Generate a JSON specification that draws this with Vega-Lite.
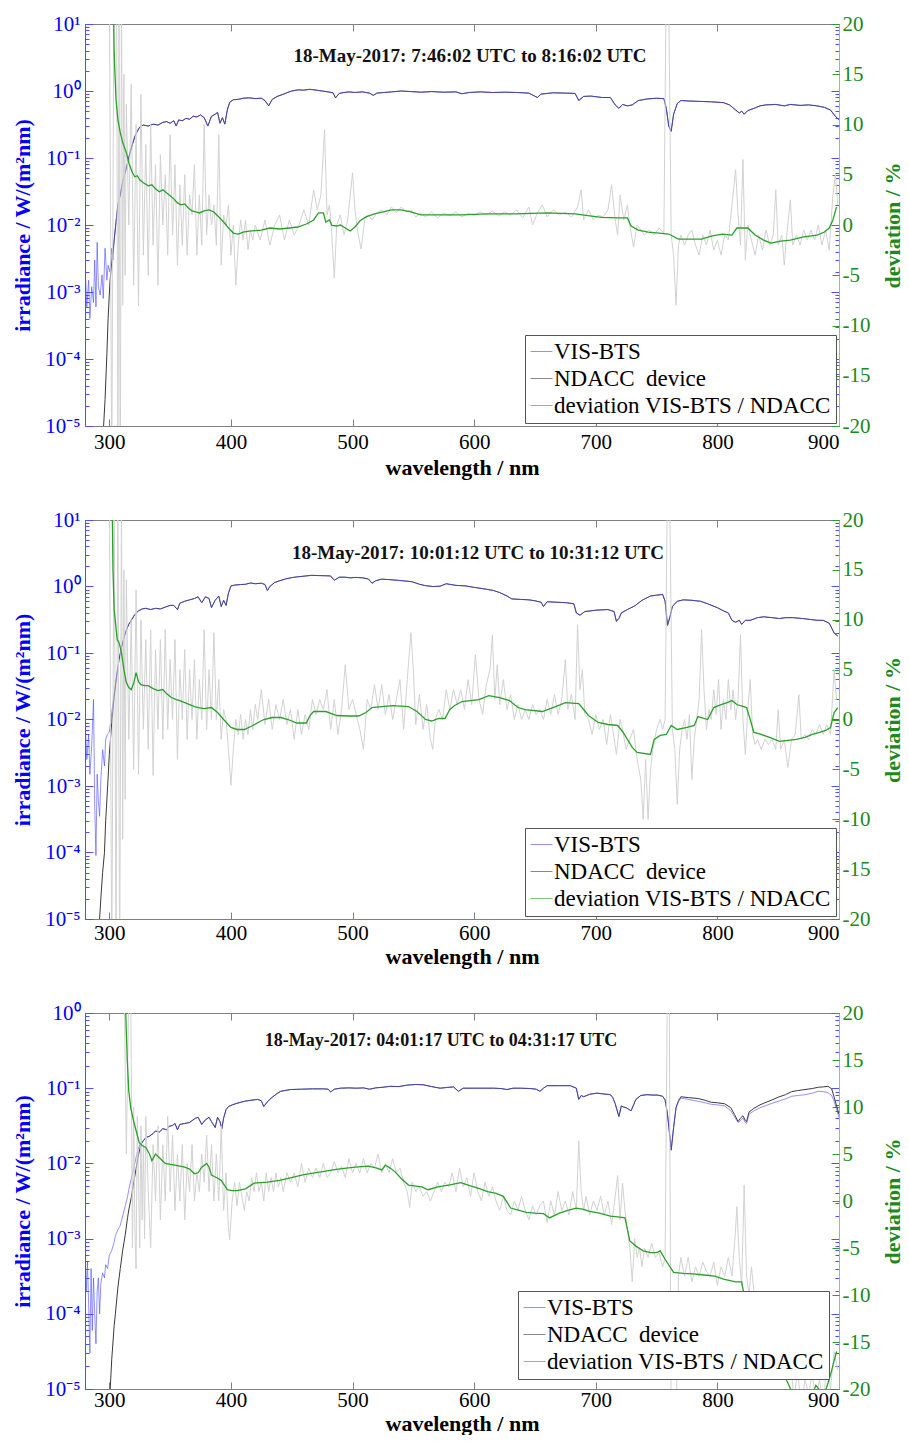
{
  "$schema": "https://vega.github.io/schema/vega-lite/v6.json",
  "padding": {"left": 11, "top": 12, "right": 0, "bottom": 0},
  "background": "white",
  "datasets": {
    "irr1": [
      {"wl":280,"vis":0.0025,"ndacc":1e-7},{"wl":281.5,"vis":0.0006,"ndacc":1e-7},{"wl":283,"vis":0.0015,"ndacc":1e-7},{"wl":284,"vis":0.0004,"ndacc":1e-7},{"wl":285.5,"vis":0.0012,"ndacc":1e-7},{"wl":287,"vis":0.0007,"ndacc":1e-7},{"wl":288,"vis":0.003,"ndacc":1e-7},{"wl":289,"vis":0.0006,"ndacc":1e-7},{"wl":290,"vis":0.0055,"ndacc":1e-7},{"wl":291,"vis":0.0012,"ndacc":1e-7},{"wl":292.5,"vis":0.0009,"ndacc":1e-7},{"wl":294,"vis":0.0018,"ndacc":3e-6},{"wl":295,"vis":0.0008,"ndacc":8e-6},{"wl":296.5,"vis":0.0045,"ndacc":2.5e-5},{"wl":298,"vis":0.0015,"ndacc":0.00012},{"wl":299,"vis":0.0025,"ndacc":0.0004},{"wl":300.5,"vis":0.002,"ndacc":0.0014},{"wl":302,"vis":0.0045,"ndacc":0.0028},{"wl":303,"vis":0.003,"ndacc":0.004},{"wl":304,"vis":0.006,"ndacc":0.006},{"wl":305.5,"vis":0.011,"ndacc":0.011},
      {"wl":307,"vis":0.02,"ndacc":0.02},{"wl":309,"vis":0.028,"ndacc":0.028},{"wl":311,"vis":0.045,"ndacc":0.045},{"wl":313,"vis":0.06,"ndacc":0.06},{"wl":315,"vis":0.085,"ndacc":0.085},{"wl":317,"vis":0.12,"ndacc":0.12},{"wl":319,"vis":0.16,"ndacc":0.16},{"wl":321,"vis":0.21,"ndacc":0.21},{"wl":323,"vis":0.25,"ndacc":0.25},{"wl":325,"vis":0.29,"ndacc":0.29},{"wl":328,"vis":0.31,"ndacc":0.31},{"wl":332,"vis":0.3,"ndacc":0.3},{"wl":336,"vis":0.32,"ndacc":0.32},{"wl":340,"vis":0.31,"ndacc":0.31},{"wl":344,"vis":0.34,"ndacc":0.34},{"wl":347,"vis":0.35,"ndacc":0.35},{"wl":350,"vis":0.33,"ndacc":0.33},{"wl":353,"vis":0.36,"ndacc":0.36},{"wl":355,"vis":0.3,"ndacc":0.3},{"wl":357,"vis":0.37,"ndacc":0.37},{"wl":360,"vis":0.36,"ndacc":0.36},{"wl":363,"vis":0.39,"ndacc":0.39},{"wl":366,"vis":0.38,"ndacc":0.38},{"wl":369,"vis":0.42,"ndacc":0.42},{"wl":372,"vis":0.41,"ndacc":0.41},{"wl":375,"vis":0.44,"ndacc":0.44},{"wl":378,"vis":0.4,"ndacc":0.4},{"wl":381,"vis":0.3,"ndacc":0.3},{"wl":384,"vis":0.42,"ndacc":0.42},{"wl":387,"vis":0.45,"ndacc":0.45},{"wl":389,"vis":0.48,"ndacc":0.48},{"wl":391,"vis":0.33,"ndacc":0.33},{"wl":393,"vis":0.4,"ndacc":0.4},{"wl":395,"vis":0.32,"ndacc":0.32},{"wl":397,"vis":0.52,"ndacc":0.52},{"wl":399,"vis":0.68,"ndacc":0.68},{"wl":402,"vis":0.74,"ndacc":0.74},{"wl":406,"vis":0.75,"ndacc":0.75},{"wl":410,"vis":0.78,"ndacc":0.78},{"wl":415,"vis":0.79,"ndacc":0.79},{"wl":420,"vis":0.77,"ndacc":0.77},{"wl":425,"vis":0.78,"ndacc":0.78},{"wl":428,"vis":0.72,"ndacc":0.72},{"wl":431,"vis":0.6,"ndacc":0.6},{"wl":434,"vis":0.75,"ndacc":0.75},{"wl":438,"vis":0.83,"ndacc":0.83},{"wl":442,"vis":0.88,"ndacc":0.88},{"wl":446,"vis":0.94,"ndacc":0.94},{"wl":450,"vis":1.0,"ndacc":1.0},{"wl":455,"vis":1.04,"ndacc":1.04},{"wl":460,"vis":1.03,"ndacc":1.03},{"wl":465,"vis":1.06,"ndacc":1.06},{"wl":470,"vis":1.03,"ndacc":1.03},{"wl":475,"vis":1.0,"ndacc":1.0},{"wl":480,"vis":0.97,"ndacc":0.97},{"wl":484,"vis":0.94,"ndacc":0.94},{"wl":486,"vis":0.79,"ndacc":0.79},{"wl":489,"vis":0.92,"ndacc":0.92},{"wl":493,"vis":0.95,"ndacc":0.95},{"wl":497,"vis":0.97,"ndacc":0.97},{"wl":502,"vis":0.95,"ndacc":0.95},{"wl":508,"vis":0.97,"ndacc":0.97},{"wl":514,"vis":0.93,"ndacc":0.93},{"wl":517,"vis":0.86,"ndacc":0.86},{"wl":520,"vis":0.93,"ndacc":0.93},{"wl":526,"vis":0.95,"ndacc":0.95},{"wl":532,"vis":0.97,"ndacc":0.97},{"wl":540,"vis":1.0,"ndacc":1.0},{"wl":548,"vis":0.98,"ndacc":0.98},{"wl":556,"vis":0.96,"ndacc":0.96},{"wl":565,"vis":0.98,"ndacc":0.98},{"wl":575,"vis":0.96,"ndacc":0.96},{"wl":585,"vis":0.97,"ndacc":0.97},{"wl":590,"vis":0.91,"ndacc":0.91},{"wl":596,"vis":0.95,"ndacc":0.95},{"wl":605,"vis":0.97,"ndacc":0.97},{"wl":615,"vis":0.95,"ndacc":0.95},{"wl":625,"vis":0.96,"ndacc":0.96},{"wl":635,"vis":0.95,"ndacc":0.95},{"wl":645,"vis":0.93,"ndacc":0.93},{"wl":652,"vis":0.8,"ndacc":0.8},{"wl":655,"vis":0.9,"ndacc":0.9},{"wl":665,"vis":0.94,"ndacc":0.94},{"wl":675,"vis":0.93,"ndacc":0.93},{"wl":683,"vis":0.92,"ndacc":0.92},{"wl":686,"vis":0.72,"ndacc":0.72},{"wl":690,"vis":0.83,"ndacc":0.83},{"wl":696,"vis":0.84,"ndacc":0.84},{"wl":705,"vis":0.8,"ndacc":0.8},{"wl":712,"vis":0.8,"ndacc":0.8},{"wl":716,"vis":0.62,"ndacc":0.62},{"wl":719,"vis":0.55,"ndacc":0.55},{"wl":722,"vis":0.63,"ndacc":0.63},{"wl":726,"vis":0.6,"ndacc":0.6},{"wl":730,"vis":0.62,"ndacc":0.62},{"wl":735,"vis":0.72,"ndacc":0.72},{"wl":742,"vis":0.76,"ndacc":0.76},{"wl":750,"vis":0.78,"ndacc":0.78},{"wl":756,"vis":0.77,"ndacc":0.77},{"wl":758,"vis":0.55,"ndacc":0.55},{"wl":760,"vis":0.3,"ndacc":0.3},{"wl":762,"vis":0.25,"ndacc":0.25},{"wl":764,"vis":0.45,"ndacc":0.45},{"wl":767,"vis":0.65,"ndacc":0.65},{"wl":770,"vis":0.72,"ndacc":0.72},{"wl":776,"vis":0.71,"ndacc":0.71},{"wl":785,"vis":0.7,"ndacc":0.7},{"wl":795,"vis":0.69,"ndacc":0.69},{"wl":805,"vis":0.67,"ndacc":0.67},{"wl":810,"vis":0.62,"ndacc":0.62},{"wl":815,"vis":0.52,"ndacc":0.52},{"wl":818,"vis":0.47,"ndacc":0.47},{"wl":820,"vis":0.5,"ndacc":0.5},{"wl":822,"vis":0.45,"ndacc":0.45},{"wl":825,"vis":0.51,"ndacc":0.51},{"wl":830,"vis":0.55,"ndacc":0.55},{"wl":835,"vis":0.6,"ndacc":0.6},{"wl":840,"vis":0.62,"ndacc":0.62},{"wl":848,"vis":0.63,"ndacc":0.63},{"wl":855,"vis":0.6,"ndacc":0.6},{"wl":860,"vis":0.63,"ndacc":0.63},{"wl":868,"vis":0.61,"ndacc":0.61},{"wl":875,"vis":0.62,"ndacc":0.62},{"wl":882,"vis":0.6,"ndacc":0.6},{"wl":888,"vis":0.57,"ndacc":0.57},{"wl":893,"vis":0.52,"ndacc":0.52},{"wl":897,"vis":0.42,"ndacc":0.42},{"wl":900,"vis":0.37,"ndacc":0.37}
    ],
    "dev1": [
      {"wl":303,"dev":25},{"wl":304,"dev":17},{"wl":305.5,"dev":12.5},{"wl":307,"dev":10.5},{"wl":309,"dev":9.2},{"wl":311,"dev":8.2},{"wl":314,"dev":7.2},{"wl":316,"dev":6.2},{"wl":319,"dev":5.2},{"wl":321,"dev":4.8},{"wl":323,"dev":4.9},{"wl":325,"dev":4.5},{"wl":328,"dev":4.2},{"wl":332,"dev":3.9},{"wl":335,"dev":4.0},{"wl":338,"dev":3.6},{"wl":341,"dev":3.3},{"wl":344,"dev":3.5},{"wl":347,"dev":3.2},{"wl":350,"dev":2.9},{"wl":353,"dev":2.6},{"wl":356,"dev":2.2},{"wl":359,"dev":2.0},{"wl":362,"dev":2.1},{"wl":365,"dev":1.7},{"wl":368,"dev":1.4},{"wl":371,"dev":1.3},{"wl":374,"dev":1.2},{"wl":378,"dev":1.4},{"wl":382,"dev":1.5},{"wl":386,"dev":1.3},{"wl":390,"dev":0.8},{"wl":394,"dev":0.3},{"wl":398,"dev":-0.3},{"wl":402,"dev":-0.8},{"wl":406,"dev":-0.9},{"wl":410,"dev":-0.7},{"wl":415,"dev":-0.6},{"wl":420,"dev":-0.55},{"wl":425,"dev":-0.5},{"wl":432,"dev":-0.3},{"wl":440,"dev":-0.4},{"wl":448,"dev":-0.3},{"wl":455,"dev":-0.2},{"wl":462,"dev":0.1},{"wl":468,"dev":0.5},{"wl":472,"dev":1.2},{"wl":476,"dev":1.2},{"wl":478,"dev":0.3},{"wl":481,"dev":0.5},{"wl":483,"dev":-0.05},{"wl":487,"dev":-0.1},{"wl":490,"dev":0},{"wl":494,"dev":-0.3},{"wl":498,"dev":-0.6},{"wl":502,"dev":-0.2},{"wl":506,"dev":0.4},{"wl":511,"dev":0.8},{"wl":518,"dev":1.1},{"wl":525,"dev":1.3},{"wl":532,"dev":1.5},{"wl":540,"dev":1.5},{"wl":548,"dev":1.3},{"wl":556,"dev":1.0},{"wl":570,"dev":1.0},{"wl":590,"dev":1.0},{"wl":610,"dev":1.1},{"wl":634,"dev":1.1},{"wl":660,"dev":1.2},{"wl":683,"dev":1.1},{"wl":695,"dev":0.9},{"wl":705,"dev":0.75},{"wl":718,"dev":0.7},{"wl":726,"dev":0.7},{"wl":729,"dev":-0.1},{"wl":735,"dev":-0.5},{"wl":743,"dev":-0.7},{"wl":752,"dev":-0.8},{"wl":760,"dev":-0.9},{"wl":768,"dev":-1.4},{"wl":778,"dev":-1.4},{"wl":787,"dev":-1.4},{"wl":795,"dev":-1.1},{"wl":804,"dev":-0.9},{"wl":812,"dev":-1.0},{"wl":816,"dev":-0.3},{"wl":825,"dev":-0.3},{"wl":831,"dev":-1.0},{"wl":838,"dev":-1.5},{"wl":844,"dev":-1.8},{"wl":852,"dev":-1.6},{"wl":860,"dev":-1.5},{"wl":870,"dev":-1.2},{"wl":882,"dev":-1.0},{"wl":888,"dev":-0.7},{"wl":892,"dev":-0.3},{"wl":895,"dev":0.5},{"wl":898,"dev":1.8}
    ],
    "raw1": [
      {"wl":300,"dev":25},{"wl":302,"dev":-25},{"wl":304,"dev":30},{"wl":306,"dev":25},{"wl":307,"dev":-25},{"wl":308,"dev":20},{"wl":309,"dev":-30},{"wl":310,"dev":25},{"wl":311,"dev":-8},{"wl":312,"dev":15},{"wl":313,"dev":-5},{"wl":314,"dev":12},{"wl":316,"dev":0},{"wl":318,"dev":14},{"wl":320,"dev":-6},{"wl":322,"dev":10},{"wl":324,"dev":-8},{"wl":326,"dev":13},{"wl":328,"dev":-3},{"wl":330,"dev":8},{"wl":332,"dev":-5},{"wl":334,"dev":10},{"wl":336,"dev":-2},{"wl":338,"dev":6},{"wl":340,"dev":-6},{"wl":342,"dev":7},{"wl":344,"dev":0},{"wl":346,"dev":5},{"wl":348,"dev":-3},{"wl":350,"dev":9},{"wl":352,"dev":-1},{"wl":354,"dev":6},{"wl":356,"dev":-4},{"wl":358,"dev":4},{"wl":360,"dev":-2},{"wl":362,"dev":5},{"wl":364,"dev":-3},{"wl":366,"dev":3},{"wl":368,"dev":1},{"wl":370,"dev":6},{"wl":372,"dev":-3},{"wl":374,"dev":3},{"wl":376,"dev":-2},{"wl":378,"dev":10},{"wl":380,"dev":-1},{"wl":382,"dev":3},{"wl":384,"dev":0},{"wl":386,"dev":2},{"wl":388,"dev":-2},{"wl":390,"dev":9},{"wl":392,"dev":-4},{"wl":394,"dev":1},{"wl":396,"dev":0},{"wl":398,"dev":2},{"wl":400,"dev":-3},{"wl":402,"dev":0},{"wl":404,"dev":-6},{"wl":406,"dev":-2},{"wl":408,"dev":0.5},{"wl":410,"dev":-1.5},{"wl":412,"dev":0.5},{"wl":414,"dev":-2.5},{"wl":416,"dev":-0.5},{"wl":418,"dev":-1.5},{"wl":420,"dev":0},{"wl":424,"dev":-1.5},{"wl":428,"dev":0.5},{"wl":432,"dev":-2},{"wl":436,"dev":0},{"wl":440,"dev":1},{"wl":444,"dev":-1.5},{"wl":448,"dev":0.5},{"wl":452,"dev":-1},{"wl":456,"dev":0},{"wl":460,"dev":1.5},{"wl":464,"dev":0},{"wl":468,"dev":3.5},{"wl":471,"dev":1.5},{"wl":474,"dev":3},{"wl":477,"dev":9.5},{"wl":479,"dev":1},{"wl":481,"dev":2},{"wl":483,"dev":-1},{"wl":485,"dev":-5.3},{"wl":487,"dev":0},{"wl":490,"dev":1},{"wl":493,"dev":-1},{"wl":496,"dev":0.5},{"wl":500,"dev":5.2},{"wl":502,"dev":1.5},{"wl":504,"dev":-0.5},{"wl":507,"dev":-2.4},{"wl":510,"dev":0.5},{"wl":513,"dev":1},{"wl":516,"dev":0.5},{"wl":520,"dev":1.2},{"wl":524,"dev":1.5},{"wl":528,"dev":1},{"wl":532,"dev":1.8},{"wl":536,"dev":1.2},{"wl":540,"dev":1.8},{"wl":544,"dev":1.3},{"wl":548,"dev":1.5},{"wl":552,"dev":0.8},{"wl":556,"dev":1.2},{"wl":560,"dev":0.8},{"wl":565,"dev":1.3},{"wl":570,"dev":0.7},{"wl":575,"dev":1.2},{"wl":580,"dev":0.9},{"wl":585,"dev":1.3},{"wl":590,"dev":0.8},{"wl":595,"dev":1.2},{"wl":600,"dev":0.9},{"wl":605,"dev":1.3},{"wl":610,"dev":1},{"wl":615,"dev":1.4},{"wl":620,"dev":0.9},{"wl":625,"dev":1.3},{"wl":630,"dev":1},{"wl":635,"dev":1.5},{"wl":640,"dev":0.7},{"wl":645,"dev":1.8},{"wl":648,"dev":0},{"wl":652,"dev":1.2},{"wl":656,"dev":2},{"wl":660,"dev":0.8},{"wl":665,"dev":1.5},{"wl":670,"dev":1},{"wl":675,"dev":1.3},{"wl":680,"dev":0.8},{"wl":685,"dev":1.8},{"wl":688,"dev":3.5},{"wl":690,"dev":0.5},{"wl":694,"dev":1.5},{"wl":698,"dev":0.5},{"wl":702,"dev":1},{"wl":706,"dev":0.8},{"wl":710,"dev":1.5},{"wl":713,"dev":4},{"wl":716,"dev":0.5},{"wl":718,"dev":-1},{"wl":720,"dev":3},{"wl":723,"dev":0.5},{"wl":726,"dev":2},{"wl":728,"dev":0},{"wl":731,"dev":-2.2},{"wl":734,"dev":0},{"wl":737,"dev":-0.5},{"wl":740,"dev":-1},{"wl":744,"dev":-0.5},{"wl":748,"dev":-1},{"wl":752,"dev":-0.3},{"wl":756,"dev":-0.8},{"wl":758,"dev":25},{"wl":760,"dev":22},{"wl":762,"dev":-1},{"wl":764,"dev":-3},{"wl":766,"dev":-8},{"wl":768,"dev":-2},{"wl":770,"dev":-1},{"wl":773,"dev":-2},{"wl":776,"dev":-1},{"wl":779,"dev":-0.5},{"wl":782,"dev":-2},{"wl":785,"dev":-3},{"wl":788,"dev":-1},{"wl":791,"dev":-2},{"wl":794,"dev":-0.5},{"wl":797,"dev":-2.5},{"wl":800,"dev":-1.5},{"wl":803,"dev":-3},{"wl":806,"dev":-1},{"wl":809,"dev":-1.5},{"wl":812,"dev":2},{"wl":815,"dev":5.5},{"wl":817,"dev":1},{"wl":819,"dev":-2},{"wl":821,"dev":6.5},{"wl":823,"dev":-3.5},{"wl":825,"dev":0},{"wl":828,"dev":-1.5},{"wl":831,"dev":-3},{"wl":834,"dev":-1},{"wl":837,"dev":-2.5},{"wl":840,"dev":-0.5},{"wl":843,"dev":-2},{"wl":846,"dev":-1},{"wl":848,"dev":3.5},{"wl":850,"dev":-2},{"wl":853,"dev":-1},{"wl":855,"dev":-4},{"wl":857,"dev":-1},{"wl":860,"dev":2.5},{"wl":862,"dev":-2},{"wl":865,"dev":-1},{"wl":868,"dev":-2},{"wl":871,"dev":-0.5},{"wl":874,"dev":-1.5},{"wl":877,"dev":-0.5},{"wl":880,"dev":-1.5},{"wl":883,"dev":0},{"wl":886,"dev":-2},{"wl":889,"dev":-0.5},{"wl":892,"dev":-2.5},{"wl":895,"dev":3},{"wl":897,"dev":5},{"wl":899,"dev":2}
    ],
    "irr2": [
      {"wl":280,"vis":0.01,"ndacc":1e-7},{"wl":281.5,"vis":0.0025,"ndacc":1e-7},{"wl":283,"vis":0.006,"ndacc":1e-7},{"wl":284,"vis":0.0015,"ndacc":1e-7},{"wl":285.5,"vis":0.004,"ndacc":1e-7},{"wl":287,"vis":0.02,"ndacc":1e-7},{"wl":288,"vis":0.0005,"ndacc":1e-7},{"wl":289,"vis":0.00009,"ndacc":1e-7},{"wl":290,"vis":0.0015,"ndacc":1e-7},{"wl":291,"vis":0.0006,"ndacc":1e-6},{"wl":292,"vis":0.00035,"ndacc":1e-5},{"wl":293,"vis":0.0012,"ndacc":2e-5},{"wl":294.5,"vis":0.0035,"ndacc":5e-5},{"wl":296,"vis":0.002,"ndacc":0.0001},{"wl":297,"vis":0.005,"ndacc":0.0003},{"wl":298.5,"vis":0.006,"ndacc":0.0009},{"wl":300,"vis":0.0065,"ndacc":0.003},{"wl":302,"vis":0.0125,"ndacc":0.009},{"wl":304,"vis":0.025,"ndacc":0.022},{"wl":306,"vis":0.045,"ndacc":0.045},
      {"wl":308,"vis":0.08,"ndacc":0.08},{"wl":310,"vis":0.12,"ndacc":0.12},{"wl":312,"vis":0.17,"ndacc":0.17},{"wl":314,"vis":0.22,"ndacc":0.22},{"wl":316,"vis":0.27,"ndacc":0.27},{"wl":318,"vis":0.31,"ndacc":0.31},{"wl":321,"vis":0.38,"ndacc":0.38},{"wl":324,"vis":0.43,"ndacc":0.43},{"wl":327,"vis":0.46,"ndacc":0.46},{"wl":330,"vis":0.47,"ndacc":0.47},{"wl":334,"vis":0.45,"ndacc":0.45},{"wl":338,"vis":0.47,"ndacc":0.47},{"wl":342,"vis":0.46,"ndacc":0.46},{"wl":346,"vis":0.49,"ndacc":0.49},{"wl":350,"vis":0.52,"ndacc":0.52},{"wl":353,"vis":0.52,"ndacc":0.52},{"wl":356,"vis":0.45,"ndacc":0.45},{"wl":358,"vis":0.56,"ndacc":0.56},{"wl":362,"vis":0.6,"ndacc":0.6},{"wl":366,"vis":0.63,"ndacc":0.63},{"wl":370,"vis":0.66,"ndacc":0.66},{"wl":373,"vis":0.7,"ndacc":0.7},{"wl":376,"vis":0.57,"ndacc":0.57},{"wl":379,"vis":0.7,"ndacc":0.7},{"wl":382,"vis":0.66,"ndacc":0.66},{"wl":384,"vis":0.48,"ndacc":0.48},{"wl":387,"vis":0.62,"ndacc":0.62},{"wl":390,"vis":0.72,"ndacc":0.72},{"wl":392,"vis":0.5,"ndacc":0.5},{"wl":394,"vis":0.62,"ndacc":0.62},{"wl":396,"vis":0.52,"ndacc":0.52},{"wl":398,"vis":0.8,"ndacc":0.8},{"wl":400,"vis":1.02,"ndacc":1.02},{"wl":403,"vis":1.05,"ndacc":1.05},{"wl":408,"vis":1.07,"ndacc":1.07},{"wl":412,"vis":1.08,"ndacc":1.08},{"wl":416,"vis":1.13,"ndacc":1.13},{"wl":420,"vis":1.1,"ndacc":1.1},{"wl":425,"vis":1.12,"ndacc":1.12},{"wl":428,"vis":1.07,"ndacc":1.07},{"wl":430,"vis":0.87,"ndacc":0.87},{"wl":432,"vis":1.0,"ndacc":1.0},{"wl":436,"vis":1.15,"ndacc":1.15},{"wl":440,"vis":1.22,"ndacc":1.22},{"wl":445,"vis":1.3,"ndacc":1.3},{"wl":450,"vis":1.36,"ndacc":1.36},{"wl":455,"vis":1.4,"ndacc":1.4},{"wl":460,"vis":1.43,"ndacc":1.43},{"wl":466,"vis":1.47,"ndacc":1.47},{"wl":472,"vis":1.46,"ndacc":1.46},{"wl":478,"vis":1.45,"ndacc":1.45},{"wl":482,"vis":1.44,"ndacc":1.44},{"wl":485,"vis":1.24,"ndacc":1.24},{"wl":489,"vis":1.38,"ndacc":1.38},{"wl":494,"vis":1.38,"ndacc":1.38},{"wl":498,"vis":1.35,"ndacc":1.35},{"wl":503,"vis":1.37,"ndacc":1.37},{"wl":508,"vis":1.35,"ndacc":1.35},{"wl":513,"vis":1.3,"ndacc":1.3},{"wl":516,"vis":1.12,"ndacc":1.12},{"wl":519,"vis":1.22,"ndacc":1.22},{"wl":524,"vis":1.29,"ndacc":1.29},{"wl":530,"vis":1.27,"ndacc":1.27},{"wl":537,"vis":1.24,"ndacc":1.24},{"wl":543,"vis":1.21,"ndacc":1.21},{"wl":549,"vis":1.18,"ndacc":1.18},{"wl":555,"vis":1.08,"ndacc":1.08},{"wl":560,"vis":1.03,"ndacc":1.03},{"wl":566,"vis":1.0,"ndacc":1.0},{"wl":572,"vis":1.01,"ndacc":1.01},{"wl":577,"vis":1.1,"ndacc":1.1},{"wl":585,"vis":1.04,"ndacc":1.04},{"wl":593,"vis":1.02,"ndacc":1.02},{"wl":600,"vis":0.97,"ndacc":0.97},{"wl":610,"vis":0.91,"ndacc":0.91},{"wl":616,"vis":0.87,"ndacc":0.87},{"wl":621,"vis":0.81,"ndacc":0.81},{"wl":627,"vis":0.72,"ndacc":0.72},{"wl":631,"vis":0.65,"ndacc":0.65},{"wl":638,"vis":0.64,"ndacc":0.64},{"wl":645,"vis":0.63,"ndacc":0.63},{"wl":650,"vis":0.61,"ndacc":0.61},{"wl":655,"vis":0.58,"ndacc":0.58},{"wl":657,"vis":0.5,"ndacc":0.5},{"wl":660,"vis":0.59,"ndacc":0.59},{"wl":668,"vis":0.58,"ndacc":0.58},{"wl":676,"vis":0.57,"ndacc":0.57},{"wl":682,"vis":0.55,"ndacc":0.55},{"wl":684,"vis":0.4,"ndacc":0.4},{"wl":687,"vis":0.37,"ndacc":0.37},{"wl":691,"vis":0.42,"ndacc":0.42},{"wl":700,"vis":0.44,"ndacc":0.44},{"wl":710,"vis":0.45,"ndacc":0.45},{"wl":715,"vis":0.42,"ndacc":0.42},{"wl":717,"vis":0.3,"ndacc":0.3},{"wl":719,"vis":0.33,"ndacc":0.33},{"wl":721,"vis":0.4,"ndacc":0.4},{"wl":726,"vis":0.45,"ndacc":0.45},{"wl":732,"vis":0.51,"ndacc":0.51},{"wl":738,"vis":0.62,"ndacc":0.62},{"wl":745,"vis":0.72,"ndacc":0.72},{"wl":750,"vis":0.74,"ndacc":0.74},{"wl":755,"vis":0.76,"ndacc":0.76},{"wl":757,"vis":0.6,"ndacc":0.6},{"wl":759,"vis":0.26,"ndacc":0.26},{"wl":761,"vis":0.35,"ndacc":0.35},{"wl":763,"vis":0.5,"ndacc":0.5},{"wl":767,"vis":0.6,"ndacc":0.6},{"wl":772,"vis":0.63,"ndacc":0.63},{"wl":779,"vis":0.62,"ndacc":0.62},{"wl":786,"vis":0.6,"ndacc":0.6},{"wl":792,"vis":0.55,"ndacc":0.55},{"wl":800,"vis":0.48,"ndacc":0.48},{"wl":805,"vis":0.43,"ndacc":0.43},{"wl":809,"vis":0.4,"ndacc":0.4},{"wl":812,"vis":0.31,"ndacc":0.31},{"wl":815,"vis":0.29,"ndacc":0.29},{"wl":818,"vis":0.31,"ndacc":0.31},{"wl":820,"vis":0.27,"ndacc":0.27},{"wl":823,"vis":0.31,"ndacc":0.31},{"wl":827,"vis":0.31,"ndacc":0.31},{"wl":833,"vis":0.34,"ndacc":0.34},{"wl":838,"vis":0.35,"ndacc":0.35},{"wl":845,"vis":0.34,"ndacc":0.34},{"wl":851,"vis":0.33,"ndacc":0.33},{"wl":856,"vis":0.34,"ndacc":0.34},{"wl":862,"vis":0.34,"ndacc":0.34},{"wl":870,"vis":0.33,"ndacc":0.33},{"wl":876,"vis":0.32,"ndacc":0.32},{"wl":882,"vis":0.31,"ndacc":0.31},{"wl":887,"vis":0.31,"ndacc":0.31},{"wl":892,"vis":0.28,"ndacc":0.28},{"wl":896,"vis":0.2,"ndacc":0.2},{"wl":899,"vis":0.18,"ndacc":0.18}
    ],
    "dev2": [
      {"wl":302,"dev":25},{"wl":303,"dev":15},{"wl":304,"dev":11},{"wl":306.5,"dev":8.0},{"wl":308,"dev":7.7},{"wl":310,"dev":6.7},{"wl":312,"dev":5.0},{"wl":314,"dev":3.7},{"wl":316,"dev":3.2},{"wl":318,"dev":3.0},{"wl":320,"dev":3.6},{"wl":322,"dev":4.7},{"wl":324,"dev":3.8},{"wl":326,"dev":3.5},{"wl":329,"dev":3.4},{"wl":332,"dev":3.4},{"wl":336,"dev":3.1},{"wl":340,"dev":2.9},{"wl":344,"dev":3.0},{"wl":347,"dev":2.6},{"wl":351,"dev":2.2},{"wl":355,"dev":2.0},{"wl":358,"dev":1.9},{"wl":362,"dev":1.7},{"wl":366,"dev":1.5},{"wl":370,"dev":1.3},{"wl":373,"dev":1.2},{"wl":378,"dev":1.1},{"wl":384,"dev":1.2},{"wl":389,"dev":0.7},{"wl":394,"dev":0.0},{"wl":400,"dev":-0.8},{"wl":405,"dev":-1.0},{"wl":411,"dev":-1.0},{"wl":418,"dev":-0.6},{"wl":427,"dev":0.0},{"wl":434,"dev":0.2},{"wl":441,"dev":0.2},{"wl":447,"dev":0.0},{"wl":454,"dev":-0.35},{"wl":462,"dev":-0.35},{"wl":465,"dev":0.4},{"wl":468,"dev":0.8},{"wl":478,"dev":0.8},{"wl":487,"dev":0.4},{"wl":496,"dev":0.35},{"wl":505,"dev":0.35},{"wl":511,"dev":0.7},{"wl":516,"dev":1.2},{"wl":524,"dev":1.3},{"wl":533,"dev":1.4},{"wl":546,"dev":1.3},{"wl":553,"dev":0.8},{"wl":560,"dev":0.0},{"wl":565,"dev":-0.15},{"wl":571,"dev":0.1},{"wl":576,"dev":0.1},{"wl":580,"dev":1.0},{"wl":584,"dev":1.4},{"wl":590,"dev":1.8},{"wl":604,"dev":2.0},{"wl":612,"dev":2.4},{"wl":621,"dev":2.2},{"wl":629,"dev":1.9},{"wl":636,"dev":1.2},{"wl":642,"dev":1.0},{"wl":656,"dev":0.8},{"wl":667,"dev":1.3},{"wl":675,"dev":1.7},{"wl":686,"dev":1.6},{"wl":690,"dev":1.0},{"wl":694,"dev":0.4},{"wl":702,"dev":-0.3},{"wl":710,"dev":-0.5},{"wl":718,"dev":-0.6},{"wl":722,"dev":-1.2},{"wl":726,"dev":-2.0},{"wl":730,"dev":-2.8},{"wl":734,"dev":-3.3},{"wl":745,"dev":-3.5},{"wl":748,"dev":-2.0},{"wl":753,"dev":-1.6},{"wl":758,"dev":-1.5},{"wl":762,"dev":-0.6},{"wl":767,"dev":-1.0},{"wl":775,"dev":-0.8},{"wl":781,"dev":-0.6},{"wl":784,"dev":0.3},{"wl":792,"dev":0.0},{"wl":797,"dev":1.2},{"wl":803,"dev":1.5},{"wl":808,"dev":1.7},{"wl":812,"dev":1.9},{"wl":816,"dev":1.5},{"wl":824,"dev":1.2},{"wl":827,"dev":0.0},{"wl":830,"dev":-1.3},{"wl":836,"dev":-1.5},{"wl":843,"dev":-1.8},{"wl":851,"dev":-2.2},{"wl":858,"dev":-2.1},{"wl":865,"dev":-2.0},{"wl":872,"dev":-1.8},{"wl":878,"dev":-1.5},{"wl":884,"dev":-1.3},{"wl":889,"dev":-1.1},{"wl":893,"dev":-0.8},{"wl":896,"dev":0.7},{"wl":899,"dev":1.2}
    ],
    "raw2": [
      {"wl":300,"dev":25},{"wl":302,"dev":-25},{"wl":304,"dev":25},{"wl":305.5,"dev":-25},{"wl":307,"dev":25},{"wl":308.5,"dev":-25},{"wl":310,"dev":22},{"wl":311,"dev":-12},{"wl":312,"dev":15},{"wl":313,"dev":-8},{"wl":314,"dev":14},{"wl":316,"dev":-2},{"wl":318,"dev":10},{"wl":320,"dev":-5},{"wl":322,"dev":13},{"wl":324,"dev":-5.5},{"wl":326,"dev":10},{"wl":328,"dev":-1},{"wl":330,"dev":8},{"wl":332,"dev":-3},{"wl":334,"dev":9},{"wl":336,"dev":-5.6},{"wl":338,"dev":7},{"wl":340,"dev":-1},{"wl":342,"dev":8},{"wl":344,"dev":-2},{"wl":346,"dev":9},{"wl":348,"dev":-1},{"wl":350,"dev":6},{"wl":352,"dev":0},{"wl":354,"dev":8},{"wl":356,"dev":-4},{"wl":358,"dev":5},{"wl":360,"dev":0},{"wl":362,"dev":7},{"wl":364,"dev":-2},{"wl":366,"dev":5},{"wl":368,"dev":0},{"wl":370,"dev":6},{"wl":372,"dev":-2},{"wl":374,"dev":4},{"wl":376,"dev":0},{"wl":378,"dev":9},{"wl":380,"dev":-1},{"wl":382,"dev":5},{"wl":384,"dev":0},{"wl":386,"dev":8.7},{"wl":388,"dev":0},{"wl":390,"dev":4},{"wl":392,"dev":-2},{"wl":394,"dev":1},{"wl":396,"dev":0},{"wl":398,"dev":-3},{"wl":400,"dev":-6.6},{"wl":402,"dev":-3},{"wl":404,"dev":0},{"wl":406,"dev":-1.5},{"wl":408,"dev":0.5},{"wl":410,"dev":-2},{"wl":412,"dev":0},{"wl":414,"dev":-1.5},{"wl":416,"dev":1},{"wl":418,"dev":-1},{"wl":420,"dev":1.5},{"wl":422,"dev":0},{"wl":425,"dev":3},{"wl":428,"dev":-0.5},{"wl":431,"dev":2},{"wl":434,"dev":-1},{"wl":437,"dev":1.5},{"wl":440,"dev":0},{"wl":443,"dev":2},{"wl":446,"dev":-0.5},{"wl":449,"dev":1},{"wl":452,"dev":-2},{"wl":455,"dev":1},{"wl":458,"dev":-1.5},{"wl":461,"dev":0.5},{"wl":464,"dev":-1},{"wl":467,"dev":2},{"wl":470,"dev":0.5},{"wl":473,"dev":2},{"wl":476,"dev":1},{"wl":479,"dev":3},{"wl":482,"dev":-1},{"wl":485,"dev":2},{"wl":488,"dev":-1.5},{"wl":491,"dev":1},{"wl":494,"dev":5.5},{"wl":497,"dev":1},{"wl":500,"dev":2},{"wl":503,"dev":0.5},{"wl":506,"dev":-1},{"wl":509,"dev":-3},{"wl":512,"dev":2},{"wl":515,"dev":1},{"wl":518,"dev":3.5},{"wl":521,"dev":1},{"wl":524,"dev":3.5},{"wl":527,"dev":0.5},{"wl":530,"dev":2.5},{"wl":533,"dev":0},{"wl":536,"dev":2},{"wl":539,"dev":4},{"wl":542,"dev":-1},{"wl":545,"dev":4},{"wl":548,"dev":8.7},{"wl":550,"dev":5},{"wl":552,"dev":-0.5},{"wl":555,"dev":2.5},{"wl":558,"dev":-1},{"wl":561,"dev":1.5},{"wl":564,"dev":-2},{"wl":566,"dev":-3},{"wl":568,"dev":0},{"wl":571,"dev":1},{"wl":574,"dev":0},{"wl":577,"dev":3},{"wl":580,"dev":1},{"wl":583,"dev":3},{"wl":586,"dev":1.5},{"wl":589,"dev":3},{"wl":592,"dev":1},{"wl":595,"dev":4},{"wl":598,"dev":1.5},{"wl":601,"dev":6.5},{"wl":604,"dev":2},{"wl":607,"dev":0.5},{"wl":610,"dev":3.5},{"wl":613,"dev":5},{"wl":615,"dev":8.5},{"wl":617,"dev":2},{"wl":619,"dev":5.5},{"wl":621,"dev":1.5},{"wl":624,"dev":4},{"wl":627,"dev":1},{"wl":630,"dev":2.5},{"wl":633,"dev":0},{"wl":636,"dev":1.5},{"wl":639,"dev":0},{"wl":642,"dev":1},{"wl":645,"dev":0},{"wl":648,"dev":1.5},{"wl":651,"dev":0.5},{"wl":654,"dev":1},{"wl":657,"dev":0},{"wl":660,"dev":2},{"wl":663,"dev":0.5},{"wl":666,"dev":2.5},{"wl":669,"dev":0.5},{"wl":672,"dev":2},{"wl":675,"dev":6},{"wl":677,"dev":1},{"wl":680,"dev":2.5},{"wl":683,"dev":0},{"wl":685,"dev":9.5},{"wl":687,"dev":3},{"wl":689,"dev":5},{"wl":691,"dev":0.5},{"wl":694,"dev":0},{"wl":697,"dev":-1.5},{"wl":700,"dev":0.5},{"wl":703,"dev":-1},{"wl":706,"dev":0},{"wl":709,"dev":-2.5},{"wl":712,"dev":0.5},{"wl":714,"dev":-1},{"wl":717,"dev":-3.5},{"wl":720,"dev":0},{"wl":722,"dev":-1},{"wl":725,"dev":-3},{"wl":728,"dev":-2},{"wl":731,"dev":-1},{"wl":734,"dev":-4},{"wl":737,"dev":-6},{"wl":739,"dev":-10},{"wl":741,"dev":-4},{"wl":743,"dev":-10},{"wl":745,"dev":-5},{"wl":747,"dev":-3},{"wl":750,"dev":-1},{"wl":753,"dev":0},{"wl":755,"dev":-1},{"wl":757,"dev":0},{"wl":759,"dev":25},{"wl":761,"dev":20},{"wl":763,"dev":-1},{"wl":765,"dev":-3},{"wl":767,"dev":-8.5},{"wl":769,"dev":-3},{"wl":771,"dev":-1},{"wl":773,"dev":0},{"wl":775,"dev":-2},{"wl":777,"dev":0.5},{"wl":779,"dev":-6},{"wl":781,"dev":-2},{"wl":783,"dev":0},{"wl":785,"dev":2},{"wl":787,"dev":9},{"wl":789,"dev":3},{"wl":791,"dev":-1},{"wl":793,"dev":1},{"wl":795,"dev":0},{"wl":797,"dev":3},{"wl":799,"dev":0.5},{"wl":801,"dev":4},{"wl":803,"dev":-1},{"wl":805,"dev":2},{"wl":807,"dev":0},{"wl":809,"dev":4},{"wl":811,"dev":1},{"wl":813,"dev":3},{"wl":815,"dev":0},{"wl":817,"dev":2},{"wl":819,"dev":8.5},{"wl":821,"dev":0},{"wl":823,"dev":-3.5},{"wl":825,"dev":1},{"wl":827,"dev":4},{"wl":829,"dev":-1.5},{"wl":831,"dev":-2.5},{"wl":833,"dev":-2},{"wl":836,"dev":-3},{"wl":839,"dev":-2},{"wl":842,"dev":-2.5},{"wl":845,"dev":-2},{"wl":848,"dev":-3},{"wl":850,"dev":1},{"wl":852,"dev":-3},{"wl":855,"dev":-2},{"wl":858,"dev":-4.8},{"wl":861,"dev":-2},{"wl":864,"dev":-1.5},{"wl":867,"dev":2.5},{"wl":869,"dev":-2},{"wl":872,"dev":-1.5},{"wl":875,"dev":-2},{"wl":878,"dev":-1},{"wl":881,"dev":-1.5},{"wl":884,"dev":-0.5},{"wl":887,"dev":-1.5},{"wl":890,"dev":-0.5},{"wl":893,"dev":-1.5},{"wl":896,"dev":5},{"wl":898,"dev":2}
    ],
    "irr3": [
      {"wl":280,"vis":0.0006,"ndacc":1e-7},{"wl":281,"vis":0.0002,"ndacc":1e-7},{"wl":282,"vis":0.0005,"ndacc":1e-7},{"wl":283,"vis":0.00013,"ndacc":1e-7},{"wl":284,"vis":0.00003,"ndacc":1e-7},{"wl":285,"vis":0.0004,"ndacc":1e-7},{"wl":286,"vis":0.00006,"ndacc":1e-7},{"wl":287,"vis":0.0003,"ndacc":1e-7},{"wl":288,"vis":0.0001,"ndacc":1e-7},{"wl":289,"vis":0.00004,"ndacc":1e-7},{"wl":290,"vis":0.0002,"ndacc":1e-7},{"wl":291,"vis":0.0003,"ndacc":1e-7},{"wl":292,"vis":0.0001,"ndacc":1e-7},{"wl":293,"vis":0.00025,"ndacc":1e-7},{"wl":294.5,"vis":0.00035,"ndacc":1e-7},{"wl":296,"vis":0.0003,"ndacc":1e-7},{"wl":297,"vis":0.00045,"ndacc":1e-7},{"wl":298.5,"vis":0.0004,"ndacc":2e-6},{"wl":300,"vis":0.0006,"ndacc":6e-6},{"wl":302,"vis":0.0007,"ndacc":2.5e-5},{"wl":304,"vis":0.0009,"ndacc":7e-5},{"wl":305,"vis":0.0011,"ndacc":0.0001},{"wl":307,"vis":0.0013,"ndacc":0.00022},{"wl":309,"vis":0.0015,"ndacc":0.0004},{"wl":311,"vis":0.002,"ndacc":0.0007},{"wl":313,"vis":0.0027,"ndacc":0.0011},{"wl":315,"vis":0.0036,"ndacc":0.0019},{"wl":316,"vis":0.0045,"ndacc":0.0024},{"wl":318,"vis":0.0062,"ndacc":0.0035},{"wl":320,"vis":0.0085,"ndacc":0.0055},{"wl":322,"vis":0.012,"ndacc":0.0085},{"wl":324,"vis":0.016,"ndacc":0.013},{"wl":326,"vis":0.019,"ndacc":0.018},
      {"wl":328,"vis":0.02,"ndacc":0.02},{"wl":330,"vis":0.022,"ndacc":0.022},{"wl":333,"vis":0.023,"ndacc":0.023},{"wl":336,"vis":0.025,"ndacc":0.025},{"wl":338,"vis":0.027,"ndacc":0.027},{"wl":341,"vis":0.026,"ndacc":0.026},{"wl":344,"vis":0.029,"ndacc":0.029},{"wl":347,"vis":0.028,"ndacc":0.028},{"wl":349,"vis":0.031,"ndacc":0.031},{"wl":352,"vis":0.032,"ndacc":0.032},{"wl":354,"vis":0.034,"ndacc":0.034},{"wl":356,"vis":0.028,"ndacc":0.028},{"wl":358,"vis":0.033,"ndacc":0.033},{"wl":362,"vis":0.034,"ndacc":0.034},{"wl":366,"vis":0.035,"ndacc":0.035},{"wl":368,"vis":0.037,"ndacc":0.037},{"wl":371,"vis":0.04,"ndacc":0.04},{"wl":373,"vis":0.041,"ndacc":0.041},{"wl":376,"vis":0.033,"ndacc":0.033},{"wl":379,"vis":0.038,"ndacc":0.038},{"wl":382,"vis":0.041,"ndacc":0.041},{"wl":384,"vis":0.036,"ndacc":0.036},{"wl":387,"vis":0.03,"ndacc":0.03},{"wl":389,"vis":0.041,"ndacc":0.041},{"wl":391,"vis":0.036,"ndacc":0.036},{"wl":392.5,"vis":0.029,"ndacc":0.029},{"wl":394,"vis":0.04,"ndacc":0.04},{"wl":396,"vis":0.052,"ndacc":0.052},{"wl":398,"vis":0.057,"ndacc":0.057},{"wl":401,"vis":0.06,"ndacc":0.06},{"wl":405,"vis":0.063,"ndacc":0.063},{"wl":411,"vis":0.067,"ndacc":0.067},{"wl":416,"vis":0.069,"ndacc":0.069},{"wl":422,"vis":0.071,"ndacc":0.071},{"wl":425,"vis":0.068,"ndacc":0.068},{"wl":427,"vis":0.057,"ndacc":0.057},{"wl":430,"vis":0.066,"ndacc":0.066},{"wl":434,"vis":0.076,"ndacc":0.076},{"wl":438,"vis":0.085,"ndacc":0.085},{"wl":441,"vis":0.091,"ndacc":0.091},{"wl":449,"vis":0.096,"ndacc":0.096},{"wl":458,"vis":0.097,"ndacc":0.097},{"wl":467,"vis":0.098,"ndacc":0.098},{"wl":476,"vis":0.098,"ndacc":0.098},{"wl":480,"vis":0.097,"ndacc":0.097},{"wl":482,"vis":0.089,"ndacc":0.089},{"wl":485,"vis":0.097,"ndacc":0.097},{"wl":490,"vis":0.1,"ndacc":0.1},{"wl":497,"vis":0.101,"ndacc":0.101},{"wl":503,"vis":0.1,"ndacc":0.1},{"wl":509,"vis":0.101,"ndacc":0.101},{"wl":514,"vis":0.097,"ndacc":0.097},{"wl":519,"vis":0.101,"ndacc":0.101},{"wl":525,"vis":0.103,"ndacc":0.103},{"wl":531,"vis":0.106,"ndacc":0.106},{"wl":538,"vis":0.105,"ndacc":0.105},{"wl":545,"vis":0.11,"ndacc":0.11},{"wl":552,"vis":0.112,"ndacc":0.112},{"wl":558,"vis":0.111,"ndacc":0.111},{"wl":565,"vis":0.105,"ndacc":0.105},{"wl":572,"vis":0.1,"ndacc":0.1},{"wl":577,"vis":0.102,"ndacc":0.102},{"wl":583,"vis":0.104,"ndacc":0.104},{"wl":587,"vis":0.091,"ndacc":0.091},{"wl":591,"vis":0.1,"ndacc":0.1},{"wl":600,"vis":0.1,"ndacc":0.1},{"wl":610,"vis":0.1,"ndacc":0.1},{"wl":616,"vis":0.1,"ndacc":0.1},{"wl":622,"vis":0.099,"ndacc":0.099},{"wl":627,"vis":0.096,"ndacc":0.096},{"wl":632,"vis":0.1,"ndacc":0.1},{"wl":638,"vis":0.1,"ndacc":0.1},{"wl":646,"vis":0.099,"ndacc":0.099},{"wl":651,"vis":0.097,"ndacc":0.097},{"wl":654,"vis":0.091,"ndacc":0.091},{"wl":657,"vis":0.1,"ndacc":0.1},{"wl":660,"vis":0.108,"ndacc":0.108},{"wl":670,"vis":0.108,"ndacc":0.108},{"wl":679,"vis":0.108,"ndacc":0.108},{"wl":684,"vis":0.1,"ndacc":0.1},{"wl":686,"vis":0.071,"ndacc":0.071},{"wl":688,"vis":0.08,"ndacc":0.08},{"wl":690,"vis":0.077,"ndacc":0.077},{"wl":695,"vis":0.083,"ndacc":0.083},{"wl":701,"vis":0.086,"ndacc":0.086},{"wl":706,"vis":0.084,"ndacc":0.084},{"wl":712,"vis":0.082,"ndacc":0.082},{"wl":714,"vis":0.075,"ndacc":0.075},{"wl":716,"vis":0.062,"ndacc":0.062},{"wl":719,"vis":0.042,"ndacc":0.042},{"wl":721,"vis":0.058,"ndacc":0.058},{"wl":723,"vis":0.056,"ndacc":0.056},{"wl":725,"vis":0.055,"ndacc":0.055},{"wl":729,"vis":0.05,"ndacc":0.05},{"wl":733,"vis":0.071,"ndacc":0.071},{"wl":737,"vis":0.08,"ndacc":0.08},{"wl":742,"vis":0.082,"ndacc":0.082},{"wl":747,"vis":0.081,"ndacc":0.081},{"wl":751,"vis":0.081,"ndacc":0.081},{"wl":755,"vis":0.078,"ndacc":0.078},{"wl":757,"vis":0.07,"ndacc":0.07},{"wl":759,"vis":0.045,"ndacc":0.045},{"wl":761,"vis":0.022,"ndacc":0.022},{"wl":762,"vis":0.015,"ndacc":0.015},{"wl":764,"vis":0.03,"ndacc":0.03},{"wl":766,"vis":0.055,"ndacc":0.055},
      {"wl":768,"vis":0.066,"ndacc":0.068},{"wl":770,"vis":0.074,"ndacc":0.077},{"wl":776,"vis":0.071,"ndacc":0.075},{"wl":784,"vis":0.067,"ndacc":0.073},{"wl":790,"vis":0.064,"ndacc":0.069},{"wl":795,"vis":0.061,"ndacc":0.065},{"wl":800,"vis":0.06,"ndacc":0.064},{"wl":806,"vis":0.058,"ndacc":0.062},{"wl":811,"vis":0.05,"ndacc":0.055},{"wl":814,"vis":0.042,"ndacc":0.045},{"wl":817,"vis":0.035,"ndacc":0.036},{"wl":819,"vis":0.037,"ndacc":0.04},{"wl":821,"vis":0.04,"ndacc":0.043},{"wl":823,"vis":0.035,"ndacc":0.037},{"wl":824,"vis":0.034,"ndacc":0.036},{"wl":826,"vis":0.045,"ndacc":0.048},{"wl":830,"vis":0.05,"ndacc":0.054},{"wl":835,"vis":0.055,"ndacc":0.06},{"wl":839,"vis":0.058,"ndacc":0.064},{"wl":845,"vis":0.063,"ndacc":0.07},{"wl":850,"vis":0.067,"ndacc":0.076},{"wl":856,"vis":0.072,"ndacc":0.082},{"wl":861,"vis":0.078,"ndacc":0.09},{"wl":866,"vis":0.08,"ndacc":0.093},{"wl":872,"vis":0.082,"ndacc":0.096},{"wl":878,"vis":0.086,"ndacc":0.099},{"wl":883,"vis":0.091,"ndacc":0.103},{"wl":887,"vis":0.09,"ndacc":0.104},{"wl":891,"vis":0.087,"ndacc":0.106},{"wl":894,"vis":0.08,"ndacc":0.098},{"wl":896,"vis":0.067,"ndacc":0.076},{"wl":898,"vis":0.052,"ndacc":0.058},{"wl":900,"vis":0.041,"ndacc":0.045}
    ],
    "dev3": [
      {"wl":312,"dev":25},{"wl":313.5,"dev":20},{"wl":314.7,"dev":15.2},{"wl":316,"dev":11.7},{"wl":317.6,"dev":9.9},{"wl":320,"dev":8.5},{"wl":322,"dev":7.5},{"wl":324.6,"dev":6.2},{"wl":327,"dev":5.9},{"wl":330,"dev":5.7},{"wl":333,"dev":5.0},{"wl":335,"dev":4.3},{"wl":338,"dev":5.0},{"wl":342,"dev":4.5},{"wl":346,"dev":4.0},{"wl":350,"dev":3.9},{"wl":355,"dev":3.8},{"wl":362,"dev":3.6},{"wl":366,"dev":3.4},{"wl":370,"dev":2.9},{"wl":373,"dev":3.0},{"wl":376,"dev":3.6},{"wl":380,"dev":4.0},{"wl":382,"dev":3.6},{"wl":384,"dev":2.75},{"wl":388,"dev":2.5},{"wl":392,"dev":2.2},{"wl":395,"dev":1.6},{"wl":397,"dev":1.2},{"wl":401,"dev":1.1},{"wl":405,"dev":1.1},{"wl":412,"dev":1.3},{"wl":419,"dev":1.9},{"wl":430,"dev":2.0},{"wl":440,"dev":2.2},{"wl":447,"dev":2.4},{"wl":460,"dev":2.8},{"wl":474,"dev":3.1},{"wl":488,"dev":3.4},{"wl":502,"dev":3.6},{"wl":513,"dev":3.7},{"wl":520,"dev":3.5},{"wl":524,"dev":3.3},{"wl":527,"dev":3.8},{"wl":531,"dev":3.5},{"wl":535,"dev":3.1},{"wl":540,"dev":2.4},{"wl":546,"dev":1.7},{"wl":557,"dev":1.5},{"wl":562,"dev":1.2},{"wl":570,"dev":1.5},{"wl":579,"dev":1.7},{"wl":589,"dev":1.95},{"wl":597,"dev":1.6},{"wl":605,"dev":1.3},{"wl":611,"dev":1.0},{"wl":618,"dev":0.8},{"wl":624,"dev":0.5},{"wl":630,"dev":-0.75},{"wl":637,"dev":-1.0},{"wl":643,"dev":-1.2},{"wl":650,"dev":-1.3},{"wl":657,"dev":-1.35},{"wl":662,"dev":-1.8},{"wl":670,"dev":-1.3},{"wl":677,"dev":-1.0},{"wl":684,"dev":-0.75},{"wl":690,"dev":-0.9},{"wl":695,"dev":-1.1},{"wl":703,"dev":-1.3},{"wl":712,"dev":-1.6},{"wl":718,"dev":-1.7},{"wl":724,"dev":-1.8},{"wl":728,"dev":-4.25},{"wl":733,"dev":-4.8},{"wl":739,"dev":-5.3},{"wl":745,"dev":-5.5},{"wl":750,"dev":-5.5},{"wl":753,"dev":-5.3},{"wl":757,"dev":-6.2},{"wl":764,"dev":-7.6},{"wl":772,"dev":-7.7},{"wl":780,"dev":-7.75},{"wl":791,"dev":-7.9},{"wl":798,"dev":-8.0},{"wl":805,"dev":-8.3},{"wl":815,"dev":-8.6},{"wl":820,"dev":-8.6},{"wl":822,"dev":-10},{"wl":830,"dev":-12},{"wl":840,"dev":-14.5},{"wl":850,"dev":-17},{"wl":857,"dev":-19.1},{"wl":862,"dev":-20.5},{"wl":870,"dev":-22},{"wl":877,"dev":-21},{"wl":881,"dev":-19.6},{"wl":885,"dev":-20.3},{"wl":887,"dev":-21},{"wl":893,"dev":-18.5},{"wl":898,"dev":-16}
    ],
    "raw3": [
      {"wl":312,"dev":25},{"wl":314,"dev":5},{"wl":316,"dev":22},{"wl":317.5,"dev":25},{"wl":319,"dev":-5},{"wl":320,"dev":10},{"wl":321,"dev":-3},{"wl":322,"dev":-7.2},{"wl":323,"dev":9},{"wl":324,"dev":2},{"wl":325,"dev":-5},{"wl":326,"dev":8},{"wl":327,"dev":-2},{"wl":328,"dev":6},{"wl":329,"dev":-4},{"wl":330,"dev":9},{"wl":332,"dev":1},{"wl":334,"dev":-5},{"wl":336,"dev":6},{"wl":338,"dev":0},{"wl":340,"dev":8},{"wl":342,"dev":-2},{"wl":344,"dev":6},{"wl":346,"dev":0},{"wl":348,"dev":9},{"wl":350,"dev":1},{"wl":352,"dev":7},{"wl":354,"dev":-1},{"wl":356,"dev":5},{"wl":358,"dev":0},{"wl":360,"dev":6},{"wl":362,"dev":-2},{"wl":364,"dev":4},{"wl":366,"dev":1},{"wl":368,"dev":6},{"wl":370,"dev":0},{"wl":372,"dev":3},{"wl":374,"dev":1},{"wl":376,"dev":5},{"wl":378,"dev":2},{"wl":380,"dev":7},{"wl":382,"dev":1},{"wl":384,"dev":6},{"wl":386,"dev":0},{"wl":388,"dev":5},{"wl":390,"dev":0},{"wl":392,"dev":8},{"wl":394,"dev":-1},{"wl":396,"dev":3},{"wl":398,"dev":-3},{"wl":399,"dev":-4.1},{"wl":401,"dev":0},{"wl":403,"dev":2},{"wl":405,"dev":-0.5},{"wl":407,"dev":2},{"wl":409,"dev":0.5},{"wl":411,"dev":-1},{"wl":413,"dev":1},{"wl":415,"dev":0},{"wl":417,"dev":2.5},{"wl":419,"dev":1},{"wl":421,"dev":3},{"wl":423,"dev":1},{"wl":425,"dev":2},{"wl":427,"dev":0},{"wl":429,"dev":3},{"wl":431,"dev":1},{"wl":433,"dev":2.5},{"wl":435,"dev":1},{"wl":437,"dev":3},{"wl":439,"dev":1.5},{"wl":441,"dev":2.5},{"wl":443,"dev":1},{"wl":446,"dev":3},{"wl":449,"dev":2},{"wl":452,"dev":3},{"wl":455,"dev":1.5},{"wl":458,"dev":4},{"wl":461,"dev":2},{"wl":464,"dev":3.5},{"wl":467,"dev":2.5},{"wl":470,"dev":3.5},{"wl":473,"dev":2.5},{"wl":476,"dev":4},{"wl":479,"dev":2.5},{"wl":482,"dev":3},{"wl":485,"dev":4.2},{"wl":488,"dev":3},{"wl":491,"dev":3.7},{"wl":494,"dev":2.5},{"wl":497,"dev":4.5},{"wl":500,"dev":3},{"wl":503,"dev":4},{"wl":506,"dev":3},{"wl":509,"dev":4.5},{"wl":512,"dev":3},{"wl":515,"dev":4},{"wl":518,"dev":3.5},{"wl":521,"dev":5},{"wl":524,"dev":3},{"wl":527,"dev":4},{"wl":530,"dev":3},{"wl":533,"dev":4.5},{"wl":536,"dev":3},{"wl":539,"dev":3.5},{"wl":542,"dev":2},{"wl":545,"dev":1},{"wl":547,"dev":-0.7},{"wl":549,"dev":2},{"wl":552,"dev":1},{"wl":555,"dev":1.5},{"wl":558,"dev":0.5},{"wl":561,"dev":1},{"wl":564,"dev":0},{"wl":567,"dev":1},{"wl":570,"dev":2},{"wl":573,"dev":1},{"wl":576,"dev":2},{"wl":579,"dev":1.5},{"wl":582,"dev":3},{"wl":585,"dev":1},{"wl":588,"dev":3.5},{"wl":591,"dev":1.5},{"wl":594,"dev":2.5},{"wl":597,"dev":0.5},{"wl":600,"dev":3},{"wl":603,"dev":1},{"wl":606,"dev":0},{"wl":609,"dev":2},{"wl":612,"dev":0.5},{"wl":615,"dev":1.5},{"wl":618,"dev":0},{"wl":621,"dev":-1},{"wl":624,"dev":0.5},{"wl":627,"dev":-1},{"wl":630,"dev":-1.5},{"wl":633,"dev":0},{"wl":636,"dev":-1},{"wl":639,"dev":0.5},{"wl":642,"dev":-1},{"wl":645,"dev":-2},{"wl":648,"dev":-0.5},{"wl":651,"dev":-1.5},{"wl":654,"dev":-0.5},{"wl":657,"dev":0},{"wl":660,"dev":-2.3},{"wl":663,"dev":0},{"wl":666,"dev":-1.5},{"wl":669,"dev":1},{"wl":672,"dev":-1},{"wl":675,"dev":0},{"wl":678,"dev":-1.5},{"wl":681,"dev":1},{"wl":684,"dev":-1},{"wl":686,"dev":6.4},{"wl":688,"dev":1},{"wl":690,"dev":-1},{"wl":692,"dev":0.5},{"wl":695,"dev":-1.5},{"wl":698,"dev":0},{"wl":701,"dev":-1},{"wl":704,"dev":0.5},{"wl":707,"dev":-1.5},{"wl":710,"dev":0},{"wl":713,"dev":-2.5},{"wl":716,"dev":0.5},{"wl":718,"dev":2.7},{"wl":720,"dev":-2},{"wl":722,"dev":1.9},{"wl":724,"dev":-1},{"wl":726,"dev":-3},{"wl":728,"dev":-5},{"wl":730,"dev":-8.6},{"wl":732,"dev":-4},{"wl":734,"dev":-6},{"wl":736,"dev":-5},{"wl":738,"dev":-7},{"wl":740,"dev":-5},{"wl":743,"dev":-6},{"wl":746,"dev":-4.5},{"wl":749,"dev":-6},{"wl":752,"dev":-5.5},{"wl":755,"dev":-7},{"wl":757,"dev":-6},{"wl":759,"dev":25},{"wl":760.5,"dev":20},{"wl":762,"dev":-25},{"wl":764,"dev":-25},{"wl":766,"dev":-25},{"wl":768,"dev":-8},{"wl":770,"dev":-6},{"wl":773,"dev":-8},{"wl":776,"dev":-6},{"wl":779,"dev":-8.6},{"wl":782,"dev":-7},{"wl":785,"dev":-8},{"wl":788,"dev":-6.5},{"wl":791,"dev":-7.5},{"wl":794,"dev":-8},{"wl":797,"dev":-6.5},{"wl":800,"dev":-9},{"wl":803,"dev":-7},{"wl":806,"dev":-8},{"wl":809,"dev":-6},{"wl":812,"dev":-8},{"wl":815,"dev":-3},{"wl":816,"dev":-0.6},{"wl":818,"dev":-6},{"wl":820,"dev":-9},{"wl":822,"dev":1.7},{"wl":824,"dev":-8},{"wl":826,"dev":-10},{"wl":828,"dev":-7},{"wl":830,"dev":-9.5},{"wl":833,"dev":-12},{"wl":836,"dev":-10},{"wl":839,"dev":-14},{"wl":842,"dev":-12},{"wl":845,"dev":-16},{"wl":848,"dev":-13},{"wl":851,"dev":-18},{"wl":854,"dev":-15},{"wl":857,"dev":-19},{"wl":860,"dev":-17},{"wl":863,"dev":-21},{"wl":866,"dev":-18},{"wl":869,"dev":-22},{"wl":872,"dev":-19},{"wl":875,"dev":-20.5},{"wl":878,"dev":-18.5},{"wl":881,"dev":-21},{"wl":884,"dev":-19},{"wl":887,"dev":-22},{"wl":890,"dev":-17},{"wl":893,"dev":-20},{"wl":896,"dev":-16},{"wl":899,"dev":-18}
    ]
  },
  "spacing": 94,
  "bounds": "flush",
  "resolve": {"scale": {"color": "independent"}, "legend": {"color": "independent"}},
  "vconcat": [
    {
      "width": 754,
      "height": 402,
      "title": {"text": "18-May-2017: 7:46:02 UTC to 8:16:02 UTC", "offset": -53, "dx": 8, "fontSize": 19},
      "layer": [
        {
          "data": {"name": "irr1"},
          "encoding": {"x": {"field": "wl", "type": "quantitative", "scale": {"domain": [280, 900], "nice": false, "zero": false}, "axis": {"orient": "bottom", "values": [300, 400, 500, 600, 700, 800, 900], "ticks": false, "domainColor": "#808080", "labelPadding": 5, "title": "wavelength / nm", "titlePadding": 5}}},
          "layer": [
            {"mark": {"type": "line", "clip": true, "strokeWidth": 1}, "encoding": {"y": {"field": "ndacc", "type": "quantitative", "scale": {"type": "log", "domain": [1e-5, 10], "nice": false}, "axis": {"orient": "left", "values": [1e-5,2e-5,3e-5,4e-5,5e-5,6e-5,7e-5,8e-5,9e-5,0.0001,0.0002,0.0003,0.0004,0.0005,0.0006,0.0007,0.0008,0.0009,0.001,0.002,0.003,0.004,0.005,0.006,0.007,0.008,0.009,0.01,0.02,0.03,0.04,0.05,0.06,0.07,0.08,0.09,0.1,0.2,0.3,0.4,0.5,0.6,0.7,0.8,0.9,1,2,3,4,5,6,7,8,9,10], "labels": false, "domain": false, "tickColor": "#5050ff", "tickSize": {"condition": {"test": "abs(log(datum.value)/LN10 - round(log(datum.value)/LN10)) < 0.01", "value": -8}, "value": -4}, "title": null}}, "color": {"datum": "NDACC\u00a0 device", "type": "nominal", "scale": {"domain": ["VIS-BTS", "NDACC\u00a0 device", "deviation VIS-BTS / NDACC"], "range": ["#4848ff", "#3a3a3a", "#2aa02a"]}, "legend": {"title": null}}}},
            {"mark": {"type": "line", "clip": true, "strokeWidth": 1, "opacity": 0.6}, "encoding": {"y": {"field": "vis", "type": "quantitative", "scale": {"type": "log", "domain": [1e-5, 10], "nice": false}, "axis": {"orient": "left", "values": [1e-5, 0.0001, 0.001, 0.01, 0.1, 1, 10], "labelExpr": "'10' + replace(replace(replace(replace(replace(replace(replace(toString(round(log(datum.value)/LN10)),'-','⁻'),'0','⁰'),'1','¹'),'2','²'),'3','³'),'4','⁴'),'5','⁵')", "ticks": false, "domainColor": "#4d4dff", "labelColor": "#0000ff", "labelPadding": 5, "title": "irradiance / W/(m²nm)", "titleColor": "#0000ff", "titlePadding": 10}}, "color": {"datum": "VIS-BTS", "type": "nominal"}}},
            {"mark": {"type": "line", "clip": true, "opacity": 0}, "encoding": {"y": {"field": "vis", "type": "quantitative", "scale": {"type": "log", "domain": [1e-5, 10], "nice": false}, "axis": {"orient": "right", "values": [1e-5,2e-5,3e-5,4e-5,5e-5,6e-5,7e-5,8e-5,9e-5,0.0001,0.0002,0.0003,0.0004,0.0005,0.0006,0.0007,0.0008,0.0009,0.001,0.002,0.003,0.004,0.005,0.006,0.007,0.008,0.009,0.01,0.02,0.03,0.04,0.05,0.06,0.07,0.08,0.09,0.1,0.2,0.3,0.4,0.5,0.6,0.7,0.8,0.9,1,2,3,4,5,6,7,8,9,10], "labels": false, "domain": false, "tickColor": "#5050ff", "tickSize": {"condition": {"test": "abs(log(datum.value)/LN10 - round(log(datum.value)/LN10)) < 0.01", "value": -8}, "value": -4}, "title": null}}}}
          ],
          "resolve": {"axis": {"y": "independent"}}
        },
        {
          "layer": [
            {"data": {"name": "raw1"}, "mark": {"type": "line", "clip": true, "strokeWidth": 1, "color": "#d2d2d2"}, "encoding": {"x": {"field": "wl", "type": "quantitative", "scale": {"domain": [280, 900], "nice": false, "zero": false}, "axis": {"orient": "top", "values": [300, 400, 500, 600, 700, 800, 900], "labels": false, "domain": false, "tickSize": -7, "tickColor": "#808080", "title": null}}, "y": {"field": "dev", "type": "quantitative", "scale": {"domain": [-20, 20], "nice": false, "zero": false}, "axis": {"orient": "right", "values": [-20, -15, -10, -5, 0, 5, 10, 15, 20], "labelExpr": "toString(datum.value)", "ticks": false, "domainColor": "#80cc80", "labelColor": "#1a8a1a", "labelPadding": 3, "title": "deviation / %", "titleColor": "#1a8a1a", "titleAngle": 270, "titleBaseline": "top", "titlePadding": 13}}}},
            {"data": {"name": "dev1"}, "mark": {"type": "line", "clip": true, "strokeWidth": 1.3}, "encoding": {"x": {"field": "wl", "type": "quantitative", "scale": {"domain": [280, 900], "nice": false, "zero": false}, "axis": {"orient": "bottom", "values": [300, 400, 500, 600, 700, 800, 900], "labels": false, "domain": false, "tickSize": -7, "tickColor": "#808080", "title": null}}, "y": {"field": "dev", "type": "quantitative", "scale": {"domain": [-20, 20], "nice": false, "zero": false}, "axis": {"orient": "right", "values": [-20, -15, -10, -5, 0, 5, 10, 15, 20], "labels": false, "domain": false, "tickColor": "#2aa02a", "tickSize": -7, "title": null}}, "color": {"datum": "deviation VIS-BTS / NDACC", "type": "nominal"}}}
          ],
          "resolve": {"axis": {"x": "independent", "y": "independent"}}
        }
      ],
      "resolve": {"scale": {"y": "independent"}, "axis": {"x": "independent"}}
    },
    {
      "width": 754,
      "height": 399,
      "title": {"text": "18-May-2017: 10:01:12 UTC to 10:31:12 UTC", "offset": -54, "dx": 16, "fontSize": 19},
      "layer": [
        {
          "data": {"name": "irr2"},
          "encoding": {"x": {"field": "wl", "type": "quantitative", "scale": {"domain": [280, 900], "nice": false, "zero": false}, "axis": {"orient": "bottom", "values": [300, 400, 500, 600, 700, 800, 900], "ticks": false, "domainColor": "#808080", "labelPadding": 3, "title": "wavelength / nm", "titlePadding": 3}}},
          "layer": [
            {"mark": {"type": "line", "clip": true, "strokeWidth": 1}, "encoding": {"y": {"field": "ndacc", "type": "quantitative", "scale": {"type": "log", "domain": [1e-5, 10], "nice": false}, "axis": {"orient": "left", "values": [1e-5,2e-5,3e-5,4e-5,5e-5,6e-5,7e-5,8e-5,9e-5,0.0001,0.0002,0.0003,0.0004,0.0005,0.0006,0.0007,0.0008,0.0009,0.001,0.002,0.003,0.004,0.005,0.006,0.007,0.008,0.009,0.01,0.02,0.03,0.04,0.05,0.06,0.07,0.08,0.09,0.1,0.2,0.3,0.4,0.5,0.6,0.7,0.8,0.9,1,2,3,4,5,6,7,8,9,10], "labels": false, "domain": false, "tickColor": "#5050ff", "tickSize": {"condition": {"test": "abs(log(datum.value)/LN10 - round(log(datum.value)/LN10)) < 0.01", "value": -8}, "value": -4}, "title": null}}, "color": {"datum": "NDACC\u00a0 device", "type": "nominal", "scale": {"domain": ["VIS-BTS", "NDACC\u00a0 device", "deviation VIS-BTS / NDACC"], "range": ["#4848ff", "#3a3a3a", "#2aa02a"]}, "legend": {"title": null}}}},
            {"mark": {"type": "line", "clip": true, "strokeWidth": 1, "opacity": 0.6}, "encoding": {"y": {"field": "vis", "type": "quantitative", "scale": {"type": "log", "domain": [1e-5, 10], "nice": false}, "axis": {"orient": "left", "values": [1e-5, 0.0001, 0.001, 0.01, 0.1, 1, 10], "labelExpr": "'10' + replace(replace(replace(replace(replace(replace(replace(toString(round(log(datum.value)/LN10)),'-','⁻'),'0','⁰'),'1','¹'),'2','²'),'3','³'),'4','⁴'),'5','⁵')", "ticks": false, "domainColor": "#4d4dff", "labelColor": "#0000ff", "labelPadding": 5, "title": "irradiance / W/(m²nm)", "titleColor": "#0000ff", "titlePadding": 10}}, "color": {"datum": "VIS-BTS", "type": "nominal"}}},
            {"mark": {"type": "line", "clip": true, "opacity": 0}, "encoding": {"y": {"field": "vis", "type": "quantitative", "scale": {"type": "log", "domain": [1e-5, 10], "nice": false}, "axis": {"orient": "right", "values": [1e-5,2e-5,3e-5,4e-5,5e-5,6e-5,7e-5,8e-5,9e-5,0.0001,0.0002,0.0003,0.0004,0.0005,0.0006,0.0007,0.0008,0.0009,0.001,0.002,0.003,0.004,0.005,0.006,0.007,0.008,0.009,0.01,0.02,0.03,0.04,0.05,0.06,0.07,0.08,0.09,0.1,0.2,0.3,0.4,0.5,0.6,0.7,0.8,0.9,1,2,3,4,5,6,7,8,9,10], "labels": false, "domain": false, "tickColor": "#5050ff", "tickSize": {"condition": {"test": "abs(log(datum.value)/LN10 - round(log(datum.value)/LN10)) < 0.01", "value": -8}, "value": -4}, "title": null}}}}
          ],
          "resolve": {"axis": {"y": "independent"}}
        },
        {
          "layer": [
            {"data": {"name": "raw2"}, "mark": {"type": "line", "clip": true, "strokeWidth": 1, "color": "#d2d2d2"}, "encoding": {"x": {"field": "wl", "type": "quantitative", "scale": {"domain": [280, 900], "nice": false, "zero": false}, "axis": {"orient": "top", "values": [300, 400, 500, 600, 700, 800, 900], "labels": false, "domain": false, "tickSize": -7, "tickColor": "#808080", "title": null}}, "y": {"field": "dev", "type": "quantitative", "scale": {"domain": [-20, 20], "nice": false, "zero": false}, "axis": {"orient": "right", "values": [-20, -15, -10, -5, 0, 5, 10, 15, 20], "labelExpr": "toString(datum.value)", "ticks": false, "domainColor": "#80cc80", "labelColor": "#1a8a1a", "labelPadding": 3, "title": "deviation / %", "titleColor": "#1a8a1a", "titleAngle": 270, "titleBaseline": "top", "titlePadding": 13}}}},
            {"data": {"name": "dev2"}, "mark": {"type": "line", "clip": true, "strokeWidth": 1.3}, "encoding": {"x": {"field": "wl", "type": "quantitative", "scale": {"domain": [280, 900], "nice": false, "zero": false}, "axis": {"orient": "bottom", "values": [300, 400, 500, 600, 700, 800, 900], "labels": false, "domain": false, "tickSize": -7, "tickColor": "#808080", "title": null}}, "y": {"field": "dev", "type": "quantitative", "scale": {"domain": [-20, 20], "nice": false, "zero": false}, "axis": {"orient": "right", "values": [-20, -15, -10, -5, 0, 5, 10, 15, 20], "labels": false, "domain": false, "tickColor": "#2aa02a", "tickSize": -7, "title": null}}, "color": {"datum": "deviation VIS-BTS / NDACC", "type": "nominal"}}}
          ],
          "resolve": {"axis": {"x": "independent", "y": "independent"}}
        }
      ],
      "resolve": {"scale": {"y": "independent"}, "axis": {"x": "independent"}}
    },
    {
      "width": 754,
      "height": 376,
      "title": {"text": "18-May-2017: 04:01:17 UTC to 04:31:17 UTC", "offset": -48, "dx": -21, "fontSize": 18},
      "layer": [
        {
          "data": {"name": "irr3"},
          "encoding": {"x": {"field": "wl", "type": "quantitative", "scale": {"domain": [280, 900], "nice": false, "zero": false}, "axis": {"orient": "bottom", "values": [300, 400, 500, 600, 700, 800, 900], "ticks": false, "domainColor": "#808080", "labelPadding": 0, "title": "wavelength / nm", "titlePadding": 3}}},
          "layer": [
            {"mark": {"type": "line", "clip": true, "strokeWidth": 1}, "encoding": {"y": {"field": "ndacc", "type": "quantitative", "scale": {"type": "log", "domain": [1e-5, 1], "nice": false}, "axis": {"orient": "left", "values": [1e-5,2e-5,3e-5,4e-5,5e-5,6e-5,7e-5,8e-5,9e-5,0.0001,0.0002,0.0003,0.0004,0.0005,0.0006,0.0007,0.0008,0.0009,0.001,0.002,0.003,0.004,0.005,0.006,0.007,0.008,0.009,0.01,0.02,0.03,0.04,0.05,0.06,0.07,0.08,0.09,0.1,0.2,0.3,0.4,0.5,0.6,0.7,0.8,0.9,1], "labels": false, "domain": false, "tickColor": "#5050ff", "tickSize": {"condition": {"test": "abs(log(datum.value)/LN10 - round(log(datum.value)/LN10)) < 0.01", "value": -8}, "value": -4}, "title": null}}, "color": {"datum": "NDACC\u00a0 device", "type": "nominal", "scale": {"domain": ["VIS-BTS", "NDACC\u00a0 device", "deviation VIS-BTS / NDACC"], "range": ["#4848ff", "#3a3a3a", "#2aa02a"]}, "legend": {"title": null, "offset": 10}}}},
            {"mark": {"type": "line", "clip": true, "strokeWidth": 1, "opacity": 0.6}, "encoding": {"y": {"field": "vis", "type": "quantitative", "scale": {"type": "log", "domain": [1e-5, 1], "nice": false}, "axis": {"orient": "left", "values": [1e-5, 0.0001, 0.001, 0.01, 0.1, 1], "labelExpr": "'10' + replace(replace(replace(replace(replace(replace(replace(toString(round(log(datum.value)/LN10)),'-','⁻'),'0','⁰'),'1','¹'),'2','²'),'3','³'),'4','⁴'),'5','⁵')", "ticks": false, "domainColor": "#4d4dff", "labelColor": "#0000ff", "labelPadding": 5, "title": "irradiance / W/(m²nm)", "titleColor": "#0000ff", "titlePadding": 10}}, "color": {"datum": "VIS-BTS", "type": "nominal"}}},
            {"mark": {"type": "line", "clip": true, "opacity": 0}, "encoding": {"y": {"field": "vis", "type": "quantitative", "scale": {"type": "log", "domain": [1e-5, 1], "nice": false}, "axis": {"orient": "right", "values": [1e-5,2e-5,3e-5,4e-5,5e-5,6e-5,7e-5,8e-5,9e-5,0.0001,0.0002,0.0003,0.0004,0.0005,0.0006,0.0007,0.0008,0.0009,0.001,0.002,0.003,0.004,0.005,0.006,0.007,0.008,0.009,0.01,0.02,0.03,0.04,0.05,0.06,0.07,0.08,0.09,0.1,0.2,0.3,0.4,0.5,0.6,0.7,0.8,0.9,1], "labels": false, "domain": false, "tickColor": "#5050ff", "tickSize": {"condition": {"test": "abs(log(datum.value)/LN10 - round(log(datum.value)/LN10)) < 0.01", "value": -8}, "value": -4}, "title": null}}}}
          ],
          "resolve": {"axis": {"y": "independent"}}
        },
        {
          "layer": [
            {"data": {"name": "raw3"}, "mark": {"type": "line", "clip": true, "strokeWidth": 1, "color": "#d2d2d2"}, "encoding": {"x": {"field": "wl", "type": "quantitative", "scale": {"domain": [280, 900], "nice": false, "zero": false}, "axis": {"orient": "top", "values": [300, 400, 500, 600, 700, 800, 900], "labels": false, "domain": false, "tickSize": -7, "tickColor": "#808080", "title": null}}, "y": {"field": "dev", "type": "quantitative", "scale": {"domain": [-20, 20], "nice": false, "zero": false}, "axis": {"orient": "right", "values": [-20, -15, -10, -5, 0, 5, 10, 15, 20], "labelExpr": "toString(datum.value)", "ticks": false, "domainColor": "#80cc80", "labelColor": "#1a8a1a", "labelPadding": 3, "title": "deviation / %", "titleColor": "#1a8a1a", "titleAngle": 270, "titleBaseline": "top", "titlePadding": 13}}}},
            {"data": {"name": "dev3"}, "mark": {"type": "line", "clip": true, "strokeWidth": 1.3}, "encoding": {"x": {"field": "wl", "type": "quantitative", "scale": {"domain": [280, 900], "nice": false, "zero": false}, "axis": {"orient": "bottom", "values": [300, 400, 500, 600, 700, 800, 900], "labels": false, "domain": false, "tickSize": -7, "tickColor": "#808080", "title": null}}, "y": {"field": "dev", "type": "quantitative", "scale": {"domain": [-20, 20], "nice": false, "zero": false}, "axis": {"orient": "right", "values": [-20, -15, -10, -5, 0, 5, 10, 15, 20], "labels": false, "domain": false, "tickColor": "#2aa02a", "tickSize": -7, "title": null}}, "color": {"datum": "deviation VIS-BTS / NDACC", "type": "nominal"}}}
          ],
          "resolve": {"axis": {"x": "independent", "y": "independent"}}
        }
      ],
      "resolve": {"scale": {"y": "independent"}, "axis": {"x": "independent"}}
    }
  ],
  "config": {
    "font": "Liberation Serif",
    "view": {"stroke": "#808080", "strokeWidth": 1},
    "axis": {"labelFont": "Liberation Serif", "titleFont": "Liberation Serif", "labelFontSize": 21, "titleFontSize": 22, "titleFontWeight": "bold", "grid": false, "tickWidth": 1, "labelColor": "#000000", "titleColor": "#000000"},
    "legend": {"orient": "bottom-right", "offset": 3, "strokeColor": "#555555", "fillColor": "#ffffff", "padding": 5, "symbolType": "stroke", "symbolSize": 480, "symbolStrokeWidth": 1, "labelFont": "Liberation Serif", "labelFontSize": 23, "labelOffset": 1, "rowPadding": 3, "labelLimit": 400},
    "title": {"font": "Liberation Serif", "fontSize": 17, "fontWeight": "bold", "anchor": "middle", "frame": "group", "color": "#111111"}
  }
}
